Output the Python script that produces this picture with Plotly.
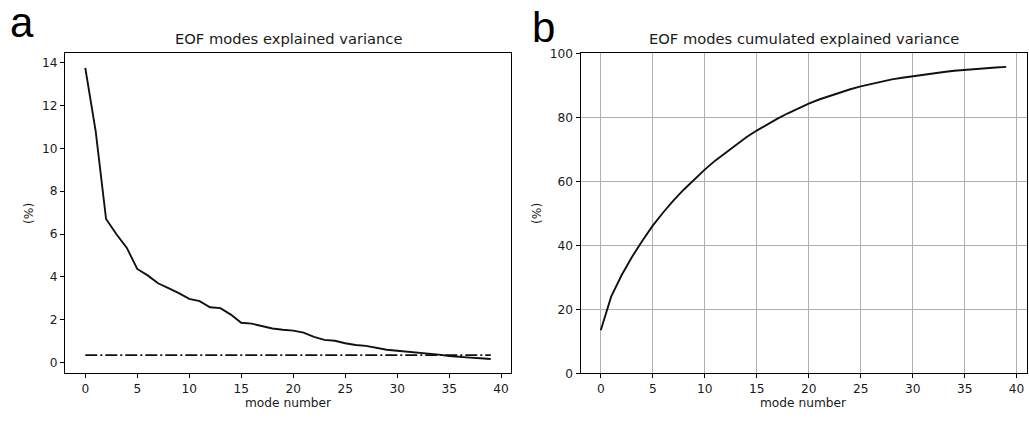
import plotly.graph_objects as go

# ---- data ----
modes = list(range(40))
explained_variance = [13.75, 10.8, 6.7, 5.99, 5.35, 4.37, 4.07, 3.70, 3.47, 3.24,
                      2.97, 2.87, 2.58, 2.54, 2.24, 1.86, 1.82, 1.71, 1.59, 1.53,
                      1.49, 1.40, 1.20, 1.06, 1.02, 0.90, 0.82, 0.78, 0.69, 0.60,
                      0.55, 0.51, 0.46, 0.41, 0.37, 0.31, 0.26, 0.23, 0.20, 0.17]
cumulated_variance = [13.5, 24.0, 30.7, 36.4, 41.5, 46.2, 50.3, 54.1, 57.5, 60.7,
                      63.7, 66.5, 69.0, 71.5, 73.8, 75.9, 77.8, 79.6, 81.3, 82.9,
                      84.3, 85.6, 86.7, 87.7, 88.8, 89.7, 90.5, 91.2, 91.9, 92.4,
                      92.9, 93.4, 93.8, 94.2, 94.6, 94.9, 95.2, 95.4, 95.6, 95.8]
noise_level = 0.35
x_ticks = [0, 5, 10, 15, 20, 25, 30, 35, 40]
left_y_ticks = [0, 2, 4, 6, 8, 10, 12, 14]
right_y_ticks = [0, 20, 40, 60, 80, 100]

W, H = 1029, 424
FONT = "DejaVu Sans"
TXT = "#1a1a1a"

fig = go.Figure()

fig.add_trace(go.Scatter(x=modes, y=explained_variance, mode="lines",
                         line=dict(color="#111111", width=1.9),
                         xaxis="x", yaxis="y", showlegend=False))
fig.add_trace(go.Scatter(x=modes, y=[noise_level] * len(modes), mode="lines",
                         line=dict(color="#111111", width=1.9, dash="12px,3px,2px,3px"),
                         xaxis="x", yaxis="y", showlegend=False))
fig.add_trace(go.Scatter(x=modes, y=cumulated_variance, mode="lines",
                         line=dict(color="#111111", width=1.9),
                         xaxis="x2", yaxis="y2", showlegend=False))

n = len(modes)
xpad = 0.05 * (n - 1)
xr = [-xpad, (n - 1) + xpad]
vmin, vmax = min(explained_variance), max(explained_variance)
ypad = 0.05 * (vmax - vmin)
yr = [vmin - ypad, vmax + ypad]

def px_x(p):
    return p / W

def px_y(p):
    return 1 - p / H

ax_common = dict(showline=True, linecolor="black", linewidth=1, mirror=True,
                 ticks="outside", ticklen=4, tickwidth=1, tickcolor="black",
                 tickfont=dict(family=FONT, size=12.2, color=TXT),
                 zeroline=False)

fig.update_layout(
    width=W, height=H,
    margin=dict(l=0, r=0, t=0, b=0),
    paper_bgcolor="white", plot_bgcolor="white",
    xaxis=dict(domain=[px_x(65), px_x(511)], range=xr, tickvals=x_ticks,
               showgrid=False, anchor="y", **ax_common),
    yaxis=dict(domain=[px_y(379), px_y(48)], range=yr, tickvals=left_y_ticks,
               showgrid=False, anchor="x", **ax_common),
    xaxis2=dict(domain=[px_x(580.5), px_x(1026.5)], range=xr, tickvals=x_ticks,
                showgrid=True, gridcolor="#b0b0b0", gridwidth=1, anchor="y2", **ax_common),
    yaxis2=dict(domain=[px_y(379), px_y(48)], range=[0, 100], tickvals=right_y_ticks,
                showgrid=True, gridcolor="#b0b0b0", gridwidth=1, anchor="x2", **ax_common),
)

annotations = [
    # panel letters
    dict(text="a", x=px_x(8), y=px_y(42), xanchor="left", yanchor="bottom",
         font=dict(family="Liberation Sans", size=42, color="black")),
    dict(text="b", x=px_x(530), y=px_y(48), xanchor="left", yanchor="bottom",
         font=dict(family="Liberation Sans", size=42, color="black")),
    # titles
    dict(text="EOF modes explained variance", x=px_x(288), y=px_y(43),
         xanchor="center", yanchor="bottom",
         font=dict(family=FONT, size=14.7, color=TXT)),
    dict(text="EOF modes cumulated explained variance", x=px_x(803.5), y=px_y(43),
         xanchor="center", yanchor="bottom",
         font=dict(family=FONT, size=14.7, color=TXT)),
    # x labels
    dict(text="mode number", x=px_x(288), y=px_y(410), xanchor="center", yanchor="middle",
         font=dict(family=FONT, size=12.2, color=TXT)),
    dict(text="mode number", x=px_x(803.5), y=px_y(410), xanchor="center", yanchor="middle",
         font=dict(family=FONT, size=12.2, color=TXT)),
    # y labels
    dict(text="(%)", x=px_x(29), y=px_y(214), xanchor="center", yanchor="middle",
         textangle=-90, font=dict(family=FONT, size=12.2, color=TXT)),
    dict(text="(%)", x=px_x(537), y=px_y(214), xanchor="center", yanchor="middle",
         textangle=-90, font=dict(family=FONT, size=12.2, color=TXT)),
]
for a in annotations:
    a.update(xref="paper", yref="paper", showarrow=False)
fig.update_layout(annotations=annotations)

page_fix = (
    "document.documentElement.style.margin='0';"
    "document.documentElement.style.padding='0';"
    "document.documentElement.style.overflow='hidden';"
    "document.body.style.margin='0';"
    "document.body.style.padding='0';"
    "document.body.style.overflow='hidden';"
)
fig.write_html("out.html", config={"displayModeBar": False}, post_script=page_fix)
